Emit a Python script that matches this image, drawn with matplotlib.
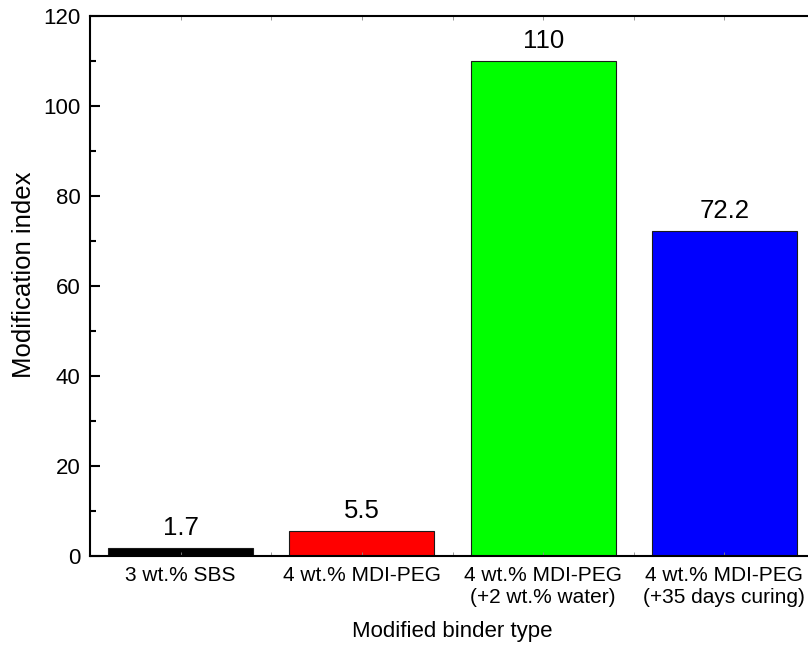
import numpy as np
import matplotlib
matplotlib.use("Agg")
import matplotlib.pyplot as plt
from matplotlib.ticker import MultipleLocator, FixedLocator

plt.rcParams['font.family'] = ['Liberation Sans', 'DejaVu Sans']

binders = ['3 wt.% SBS', '4 wt.% MDI-PEG',
           '4 wt.% MDI-PEG\n(+2 wt.% water)', '4 wt.% MDI-PEG\n(+35 days curing)']
mod_index = [1.7, 5.5, 110, 72.2]
value_labels = ['1.7', '5.5', '110', '72.2']
bar_colors = ['#000000', '#FF0000', '#00FF00', '#0000FF']

fig = plt.figure(figsize=(8.08, 6.55), dpi=100)
ax = fig.add_axes([0.1114, 0.1511, 0.8973, 0.8244])

x = np.arange(len(binders))
bars = ax.bar(x, mod_index, width=0.8, color=bar_colors, edgecolor='#1a1a1a', linewidth=0.8)

for xi, v, lab in zip(x, mod_index, value_labels):
    ax.annotate(lab, (xi, v), xytext=(0, 6), textcoords='offset points',
                ha='center', va='bottom', fontsize=18.5)

ax.set_xlim(-0.5, 3.5)
ax.set_ylim(0, 120)
ax.yaxis.set_major_locator(MultipleLocator(20))
ax.yaxis.set_minor_locator(MultipleLocator(10))
ax.set_xticks(x)
ax.set_xticklabels(binders, fontsize=15)
ax.xaxis.set_minor_locator(FixedLocator(x[:-1] + 0.5))

ax.tick_params(axis='y', which='major', direction='in', length=7, width=1.5, labelsize=16, pad=7)
ax.tick_params(axis='y', which='minor', direction='in', length=4, width=1.5)
ax.tick_params(axis='x', which='both', direction='in', length=3, width=0.6, color='#888888',
               top=True, pad=7)

for s in ax.spines.values():
    s.set_linewidth(1.5)

ax.set_xlabel('Modified binder type', fontsize=16, labelpad=10)
ax.set_ylabel('Modification index', fontsize=18.5)
ax.yaxis.set_label_coords(-0.075, 0.52)

fig.savefig('out.png', dpi=100)
